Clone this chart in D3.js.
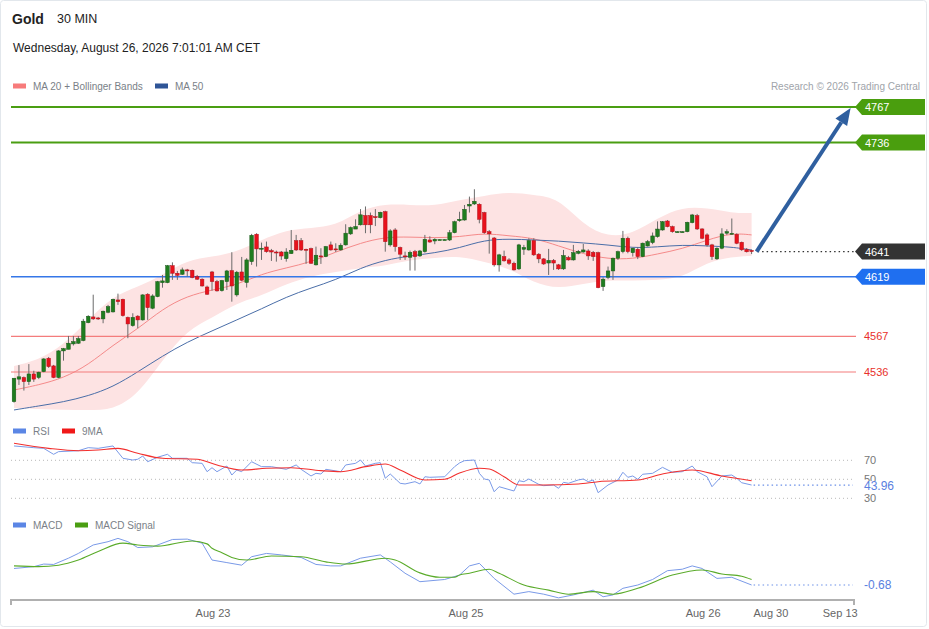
<!DOCTYPE html>
<html><head><meta charset="utf-8">
<script src="https://cdn.jsdelivr.net/npm/d3@7/dist/d3.min.js"></script>
<style>
html,body{margin:0;padding:0;background:#fff;}
svg{display:block;font-family:"Liberation Sans",Arial,sans-serif;}
</style></head>
<body><svg id="c" width="929" height="629"></svg>
<script>
// ---------- DATA ----------
const openP = [4510.2,4529.8,4531.2,4527.6,4534.3,4531.2,4536.3,4548.0,4541.3,4531.2,
4554.4,4555.8,4560.5,4561.1,4563.4,4579.0,4584.0,4583.1,4582.3,4588.1,
4588.4,4598.8,4599.4,4583.6,4576.4,4584.7,4581.4,4603.8,4591.6,4601.7,
4613.9,4613.9,4628.7,4622.1,4621.2,4625.0,4624.7,4619.2,4616.9,4610.1,
4623.2,4614.8,4606.9,4614.8,4624.4,4603.2,4623.2,4614.0,4632.2,4656.1,
4643.3,4645.0,4641.8,4640.6,4640.6,4634.8,4639.2,4650.5,4650.5,4643.0,
4643.5,4629.4,4637.2,4636.6,4646.8,4643.3,4642.4,4646.8,4656.4,4660.6,
4664.3,4672.4,4672.4,4671.4,4670.5,4675.7,4646.8,4659.8,4644.5,4637.2,
4636.0,4640.9,4637.2,4640.9,4651.1,4650.2,4651.4,4651.4,4651.1,4657.4,
4667.9,4668.5,4680.7,4682.5,4682.2,4675.0,4658.3,4652.8,4629.4,4636.6,
4633.7,4630.8,4625.9,4643.0,4642.4,4650.5,4638.7,4634.6,4631.0,4633.3,
4629.4,4625.9,4635.8,4633.7,4639.5,4640.6,4641.5,4640.3,4640.0,4610.4,
4618.6,4624.1,4635.2,4640.9,4652.6,4640.0,4643.0,4636.6,4645.9,4648.8,
4654.0,4659.8,4667.6,4662.7,4658.3,4658.3,4658.3,4666.2,4672.3,4660.7,
4655.5,4646.8,4634.6,4643.9,4657.0,4656.7,4656.0,4649.1,4642.8,4642.0];
const highP = [4530.6,4542.0,4532.1,4542.9,4537.1,4536.3,4548.0,4549.1,4542.2,4555.0,
4557.0,4567.4,4567.4,4567.4,4582.3,4585.5,4603.4,4584.0,4589.5,4594.5,
4599.9,4604.3,4599.9,4584.3,4587.2,4585.5,4603.8,4604.7,4603.8,4615.4,
4620.6,4629.3,4631.6,4624.1,4627.0,4625.9,4625.3,4620.6,4617.7,4611.3,
4624.1,4616.3,4616.3,4625.0,4640.4,4624.1,4636.3,4635.2,4656.4,4657.0,
4648.8,4649.7,4643.3,4641.8,4641.5,4643.9,4659.8,4655.5,4652.8,4643.5,
4644.4,4645.3,4643.9,4645.9,4649.7,4648.2,4648.2,4664.8,4662.8,4669.1,
4678.0,4680.3,4675.0,4678.0,4675.7,4676.6,4660.5,4661.4,4645.3,4640.9,
4641.8,4642.4,4642.4,4655.5,4654.3,4652.6,4651.8,4651.8,4659.8,4667.9,
4675.7,4681.6,4688.9,4695.3,4683.1,4675.7,4659.8,4653.7,4639.0,4641.8,
4635.2,4632.2,4647.7,4646.8,4652.6,4652.6,4639.6,4635.2,4643.3,4634.5,
4630.2,4642.4,4637.2,4646.8,4642.4,4647.7,4643.0,4641.5,4640.9,4618.6,
4627.9,4635.8,4641.8,4659.0,4654.0,4644.4,4644.7,4648.8,4651.1,4657.6,
4667.3,4667.6,4668.5,4663.6,4658.8,4658.8,4667.0,4673.8,4673.8,4661.3,
4656.9,4647.7,4644.7,4661.3,4660.4,4669.8,4656.9,4649.7,4644.0,4642.8];
const lowP = [4509.3,4524.7,4519.8,4524.7,4527.4,4529.8,4535.8,4539.6,4530.6,4530.6,
4545.9,4555.8,4559.1,4560.5,4562.8,4578.5,4581.4,4581.4,4578.5,4587.2,
4587.8,4594.5,4584.3,4565.5,4575.5,4574.1,4580.8,4581.4,4590.7,4601.2,
4609.5,4613.4,4616.3,4616.3,4620.6,4619.2,4617.7,4616.3,4610.4,4603.2,
4606.9,4606.1,4606.1,4607.5,4597.3,4601.7,4615.1,4609.6,4629.4,4627.9,
4633.7,4640.0,4632.8,4632.2,4633.7,4632.2,4638.9,4641.5,4641.5,4630.3,
4630.2,4628.8,4630.2,4636.1,4641.8,4640.6,4641.8,4646.2,4655.5,4660.6,
4663.7,4657.0,4657.0,4663.2,4669.9,4640.9,4645.3,4640.9,4633.7,4633.7,
4624.4,4624.4,4636.3,4640.0,4648.7,4647.4,4651.0,4651.0,4650.2,4656.9,
4667.0,4667.9,4675.0,4681.6,4665.6,4656.4,4639.2,4627.9,4623.5,4632.2,
4629.4,4624.4,4625.0,4638.1,4641.8,4637.2,4630.9,4629.4,4620.6,4625.0,
4625.0,4625.0,4633.1,4633.1,4638.6,4640.0,4633.7,4632.8,4609.0,4606.7,
4616.9,4616.3,4633.7,4639.5,4639.5,4636.6,4634.4,4636.1,4645.3,4647.4,
4653.1,4659.2,4662.1,4657.4,4657.8,4657.8,4657.8,4665.6,4659.8,4651.7,
4645.3,4633.7,4633.7,4643.0,4655.5,4655.8,4647.4,4641.6,4640.2,4638.8];
const closeP = [4530.6,4531.8,4527.6,4534.3,4529.8,4535.8,4547.4,4540.7,4531.2,4554.4,
4556.4,4561.1,4562.5,4565.1,4580.3,4584.6,4582.3,4582.3,4589.0,4593.0,
4599.4,4597.3,4585.1,4577.9,4583.6,4581.4,4603.2,4592.1,4602.3,4614.8,
4615.4,4628.7,4622.1,4620.3,4625.0,4624.4,4618.3,4616.9,4611.0,4603.8,
4614.8,4606.7,4615.7,4624.1,4611.0,4623.0,4616.0,4633.7,4655.2,4643.3,
4643.9,4640.9,4640.6,4640.0,4637.1,4640.6,4642.1,4642.4,4642.4,4642.4,
4630.8,4637.8,4636.6,4645.3,4642.4,4642.7,4646.5,4657.0,4661.9,4662.8,
4673.0,4664.3,4664.3,4670.5,4675.2,4649.6,4659.0,4645.3,4638.7,4636.3,
4640.3,4636.6,4641.5,4651.7,4649.3,4651.7,4651.4,4651.4,4657.4,4667.0,
4669.1,4677.8,4682.2,4684.8,4669.1,4657.4,4656.4,4629.4,4638.1,4632.9,
4630.8,4625.0,4646.8,4644.5,4650.5,4638.1,4634.6,4630.2,4633.3,4631.0,
4625.9,4637.5,4633.7,4640.0,4641.2,4642.4,4637.2,4636.6,4609.5,4616.9,
4624.1,4635.2,4640.9,4652.6,4640.9,4643.9,4636.6,4648.3,4649.7,4654.6,
4660.6,4667.0,4662.7,4658.3,4658.3,4658.3,4666.5,4672.9,4660.7,4652.6,
4646.8,4636.6,4643.9,4656.4,4658.3,4656.9,4648.2,4642.5,4640.8,4641.0];

// indicator samples (candle index -> value)
const bandIdx = [0,5,10,15,20,25,30,35,40,45,50,55,60,65,70,75,80,85,90,95,100,105,110,115,120,125,130,135,140,145,149];
const ma20 = [4520.3,4524.7,4530.8,4542.1,4559.6,4573.5,4591.0,4602.3,4607.5,4611.9,4621.5,4626.7,4631.9,4640.6,4648.5,4653.7,4653.7,4652.9,4653.7,4657.2,4654.6,4652.9,4645.9,4638.9,4634.5,4634.5,4638.9,4643.3,4651.1,4657.2,4655.5];
const ma50 = [4502.9,4506.4,4509.9,4515.1,4523.0,4536.0,4550.0,4562.2,4571.8,4581.4,4591.0,4601.4,4609.3,4616.2,4626.7,4633.7,4637.2,4639.8,4644.1,4651.1,4652.0,4651.1,4650.2,4648.5,4646.8,4644.1,4645.0,4646.8,4645.9,4645.0,4642.4];
const bbUpper = [4541.3,4546.5,4559.6,4581.4,4602.3,4610.1,4620.6,4633.7,4636.3,4640.6,4651.1,4659.8,4661.6,4663.3,4677.3,4682.5,4681.6,4680.8,4686.0,4689.5,4693.0,4690.3,4687.7,4664.2,4653.7,4656.3,4670.3,4679.9,4679.0,4674.6,4674.6];
const bbLower = [4504.6,4503.8,4502.9,4502.9,4502.9,4516.0,4546.5,4572.7,4583.1,4596.2,4602.3,4612.8,4619.7,4623.2,4626.7,4628.4,4633.7,4635.4,4637.2,4631.9,4626.7,4613.6,4608.4,4612.8,4616.3,4615.4,4616.3,4618.0,4631.9,4636.3,4637.2];

const rsiIdx = [0,4,6,8,9,13,15,17,20,22,24,25,26,27,29,31,32,35,36,38,39,40,41,43,44,45,46,48,50,52,55,57,58,60,61,62,63,66,67,69,70,71,73,74,75,76,78,79,81,82,83,84,87,89,90,91,93,94,95,96,97,98,101,102,103,104,106,107,109,110,111,112,114,115,116,117,118,120,122,123,124,125,126,127,129,131,133,135,137,138,140,141,143,145,146,147,149];
const rsiVal = [85.1,83.3,82.6,76.3,79.1,80.1,83.3,82.6,85.1,72.1,70.3,71.1,74.5,68.5,73.2,76.3,72.1,72.1,67.5,66.8,58.0,62.2,58.0,64.0,54.5,59.8,58.0,68.5,63.3,63.3,60.5,65.1,60.5,53.5,56.3,55.6,60.5,58.0,65.1,66.8,70.3,64.0,66.8,67.5,51.1,55.6,45.8,45.1,47.5,45.1,52.7,52.1,52.7,63.3,67.2,69.6,70.3,56.3,50.3,49.3,36.9,42.2,37.7,48.5,47.5,50.3,44.7,43.3,44.0,40.5,46.8,45.8,49.3,50.3,47.5,49.3,35.9,44.0,49.3,57.4,52.1,53.5,50.0,55.3,56.3,62.6,57.4,58.0,64.0,58.0,52.7,42.2,53.5,54.5,51.1,46.4,43.96];
const rsiMaIdx = [0,7,13,17,21,25,30,37,41,46,51,56,62,66,71,75,78,83,87,90,94,96,99,102,107,114,118,126,131,137,143,149];
const rsiMaVal = [87.9,82.6,80.1,80.8,82.6,77.4,72.1,71.1,65.1,59.8,61.6,62.2,59.1,58.0,63.3,66.1,59.8,49.3,50.0,56.6,61.6,60.8,52.7,44.0,44.0,45.1,47.5,49.3,55.6,59.8,53.5,48.5];

const macdIdx = [0,4,6,8,11,13,16,19,21,23,25,28,32,35,38,40,43,46,48,51,54,58,61,64,66,70,74,76,79,82,87,90,92,94,97,101,104,107,110,113,117,119,121,123,126,129,132,135,137,139,142,145,149];
const macdVal = [-0.23,-0.18,-0.11,-0.12,0.05,0.18,0.41,0.50,0.59,0.50,0.34,0.36,0.56,0.57,0.46,0.00,-0.07,-0.14,0.09,0.18,0.14,0.07,-0.12,-0.16,-0.16,0.05,0.14,-0.05,-0.36,-0.59,-0.53,-0.41,-0.16,-0.09,-0.50,-0.93,-0.86,-0.93,-1.03,-0.95,-0.82,-1.00,-0.95,-0.77,-0.68,-0.53,-0.29,-0.25,-0.16,-0.23,-0.50,-0.47,-0.68];
const sigIdx = [0,5,9,13,17,22,25,29,36,39,40,42,44,47,52,58,63,67,75,77,82,86,89,90,92,96,98,103,108,112,117,121,126,133,139,143,147,149];
const sigVal = [-0.16,-0.18,-0.14,0.00,0.23,0.46,0.41,0.38,0.52,0.44,0.32,0.20,0.07,0.00,0.11,0.09,-0.05,-0.11,0.05,0.00,-0.35,-0.47,-0.47,-0.41,-0.36,-0.25,-0.36,-0.68,-0.82,-0.93,-0.86,-0.93,-0.77,-0.41,-0.27,-0.38,-0.44,-0.53];

const resistances = [4767, 4736];
const supports = [4567, 4536];
const pivot = 4619;
const lastPrice = 4641;
const lastRsi = 43.96;
const lastMacd = -0.68;
const rsiLevels = [70, 50, 30];
const tickIdx = [40.2, 91.3, 139.2, 152.9, 166.9];
const tickLabels = ["Aug 23", "Aug 25", "Aug 26", "Aug 30", "Sep 13"];
const targetIdx = 169;

// ---------- SCALES ----------
const svg = d3.select("#c");
const N = closeP.length;
const xs = d3.scaleLinear().domain([0, N - 1]).range([14, 751.6]);
const yP = d3.scaleLinear().domain([4767, 4536]).range([107, 372]);
const yR = d3.scaleLinear().domain([30, 70]).range([498.3, 460.3]);
const yM = d3.scaleLinear().domain([-0.68, 0.6]).range([585, 538]);
const LX0 = 11, LX1 = 856, TAGX = 855;

// frame
svg.append("rect").attr("x",0.5).attr("y",0.5).attr("width",926).attr("height",626)
  .attr("rx",3).attr("fill","none").attr("stroke","#e2e7ec");

// header
svg.append("text").attr("x",12).attr("y",24).attr("font-size",14).attr("font-weight","bold").attr("fill","#222").text("Gold");
svg.append("text").attr("x",57).attr("y",23).attr("font-size",12.5).attr("fill","#222").text("30 MIN");
svg.append("text").attr("x",13).attr("y",52).attr("font-size",12).attr("fill","#222").text("Wednesday, August 26, 2026 7:01:01 AM CET");

function legend(x, y, color, label){
  svg.append("rect").attr("x",x).attr("y",y-2.5).attr("width",13).attr("height",5).attr("fill",color);
  svg.append("text").attr("x",x+20).attr("y",y+4).attr("font-size",10).attr("fill","#7a7f87").text(label);
}
legend(13, 86, "#f77b7b", "MA 20 + Bollinger Bands");
legend(155, 86, "#2f5597", "MA 50");
svg.append("text").attr("x",920).attr("y",90).attr("text-anchor","end").attr("font-size",10).attr("fill","#a0a4aa").text("Research © 2026 Trading Central");

// Bollinger band
const band = bandIdx.map((d,i)=>({i:d,u:bbUpper[i],l:bbLower[i],m:ma20[i],s:ma50[i]}));
svg.append("path").datum(band)
  .attr("d", d3.area().x(d=>xs(d.i)).y0(d=>yP(d.l)).y1(d=>yP(d.u)).curve(d3.curveBasis))
  .attr("fill","#fde3e3");
svg.append("path").datum(band)
  .attr("d", d3.line().x(d=>xs(d.i)).y(d=>yP(d.m)).curve(d3.curveBasis))
  .attr("fill","none").attr("stroke","#f58a8a").attr("stroke-width",1);
svg.append("path").datum(band)
  .attr("d", d3.line().x(d=>xs(d.i)).y(d=>yP(d.s)).curve(d3.curveBasis))
  .attr("fill","none").attr("stroke","#4a6ea8").attr("stroke-width",1);

// horizontal levels
resistances.forEach(v=>{
  svg.append("line").attr("x1",LX0).attr("x2",LX1).attr("y1",yP(v)).attr("y2",yP(v)).attr("stroke","#4a9e12").attr("stroke-width",2);
});
svg.append("line").attr("x1",LX0).attr("x2",LX1).attr("y1",yP(pivot)).attr("y2",yP(pivot)).attr("stroke","#3577e8").attr("stroke-width",1.5);
supports.forEach(v=>{
  svg.append("line").attr("x1",LX0).attr("x2",LX1).attr("y1",yP(v)).attr("y2",yP(v)).attr("stroke","#f47c7c").attr("stroke-width",1.2);
  svg.append("text").attr("x",864).attr("y",yP(v)+4).attr("font-size",11).attr("fill","#e8302a").text(v);
});

// candles
const cw = 3.6;
const cg = svg.append("g");
for (let i=0;i<N;i++){
  const x = xs(i), o=openP[i], c=closeP[i];
  const up = c >= o;
  cg.append("line").attr("x1",x).attr("x2",x).attr("y1",yP(highP[i])).attr("y2",yP(lowP[i]))
    .attr("stroke","#6b6b6b").attr("stroke-width",1);
  const top = yP(Math.max(o,c)), bot = yP(Math.min(o,c));
  cg.append("rect").attr("x",x-cw/2).attr("y",top).attr("width",cw).attr("height",Math.max(1,bot-top))
    .attr("fill", up ? "#1f7d1f" : "#e8121c").attr("stroke", up ? "#185818" : "#b0101a").attr("stroke-width",0.5);
}

// last price dotted
svg.append("line").attr("x1",xs(N-1)+6).attr("x2",TAGX).attr("y1",yP(lastPrice)).attr("y2",yP(lastPrice))
  .attr("stroke","#333").attr("stroke-width",1.2).attr("stroke-dasharray","1.5,3");

// arrow
{
  const x1 = xs(N-1)+5, y1 = yP(lastPrice), x2 = xs(targetIdx), y2 = yP(resistances[0]) + 1;
  const ang = Math.atan2(y2-y1, x2-x1), hl = 17, hw = 7;
  const bx = x2 - hl*Math.cos(ang), by = y2 - hl*Math.sin(ang);
  svg.append("line").attr("x1",x1).attr("y1",y1).attr("x2",bx).attr("y2",by)
    .attr("stroke","#2f5f9f").attr("stroke-width",4);
  const px = -Math.sin(ang), py = Math.cos(ang);
  svg.append("path").attr("d",`M${x2},${y2}L${bx+px*hw},${by+py*hw}L${bx-px*hw},${by-py*hw}Z`).attr("fill","#2f5f9f");
}

// tags
function tag(y, color, label){
  svg.append("path").attr("d",`M${TAGX},${y}L${TAGX+7},${y-8}L925,${y-8}L925,${y+8}L${TAGX+7},${y+8}Z`).attr("fill",color);
  svg.append("text").attr("x",865).attr("y",y+4).attr("font-size",11).attr("fill","#fff").text(label);
}
tag(yP(resistances[0]), "#4a9e0e", resistances[0]);
tag(yP(resistances[1]), "#4a9e0e", resistances[1]);
tag(yP(lastPrice), "#333333", lastPrice);
tag(yP(pivot), "#1f6ff0", pivot);

// ---------- RSI ----------
legend(13, 431, "#5b86e5", "RSI");
legend(62, 431, "#f01818", "9MA");
rsiLevels.forEach(v=>{
  svg.append("line").attr("x1",LX0).attr("x2",852).attr("y1",yR(v)).attr("y2",yR(v))
    .attr("stroke","#b8b8b8").attr("stroke-dasharray","1,3");
  svg.append("text").attr("x",864).attr("y",yR(v)+4).attr("font-size",11).attr("fill","#777").text(v);
});
svg.append("path").datum(rsiIdx.map((d,i)=>[d,rsiVal[i]]))
  .attr("d", d3.line().x(d=>xs(d[0])).y(d=>yR(d[1])))
  .attr("fill","none").attr("stroke","#7a9ae8").attr("stroke-width",1);
svg.append("path").datum(rsiMaIdx.map((d,i)=>[d,rsiMaVal[i]]))
  .attr("d", d3.line().x(d=>xs(d[0])).y(d=>yR(d[1])).curve(d3.curveMonotoneX))
  .attr("fill","none").attr("stroke","#f2302e").attr("stroke-width",1.1);
svg.append("line").attr("x1",xs(N-1)+2).attr("x2",853).attr("y1",yR(lastRsi)).attr("y2",yR(lastRsi))
  .attr("stroke","#6a8fe8").attr("stroke-width",1.2).attr("stroke-dasharray","1.5,3");
svg.append("rect").attr("x",862).attr("y",yR(lastRsi)-4).attr("width",40).attr("height",11).attr("fill","#fff");
svg.append("text").attr("x",864).attr("y",yR(lastRsi)+5).attr("font-size",12).attr("fill","#5a80e0").text(lastRsi.toFixed(2));

// ---------- MACD ----------
legend(13, 525, "#5b86e5", "MACD");
legend(75, 525, "#4a9e12", "MACD Signal");
svg.append("path").datum(macdIdx.map((d,i)=>[d,macdVal[i]]))
  .attr("d", d3.line().x(d=>xs(d[0])).y(d=>yM(d[1])))
  .attr("fill","none").attr("stroke","#7a9ae8").attr("stroke-width",1);
svg.append("path").datum(sigIdx.map((d,i)=>[d,sigVal[i]]))
  .attr("d", d3.line().x(d=>xs(d[0])).y(d=>yM(d[1])).curve(d3.curveMonotoneX))
  .attr("fill","none").attr("stroke","#5aab2a").attr("stroke-width",1.1);
svg.append("line").attr("x1",xs(N-1)+2).attr("x2",853).attr("y1",yM(lastMacd)).attr("y2",yM(lastMacd))
  .attr("stroke","#6a8fe8").attr("stroke-width",1.2).attr("stroke-dasharray","1.5,3");
svg.append("text").attr("x",864).attr("y",yM(lastMacd)+4).attr("font-size",12).attr("fill","#5a80e0").text(lastMacd.toFixed(2));

// ---------- X AXIS ----------
const ay = 600;
svg.append("line").attr("x1",LX0).attr("x2",854).attr("y1",ay).attr("y2",ay).attr("stroke","#b0b0b0").attr("stroke-width",2);
[LX0, 854].forEach(x=>svg.append("line").attr("x1",x).attr("x2",x).attr("y1",ay-1).attr("y2",ay+5).attr("stroke","#b0b0b0").attr("stroke-width",2));
tickIdx.forEach((t,i)=>{
  svg.append("text").attr("x",xs(t)).attr("y",617).attr("text-anchor","middle").attr("font-size",11).attr("fill","#666").text(tickLabels[i]);
});
</script></body></html>
